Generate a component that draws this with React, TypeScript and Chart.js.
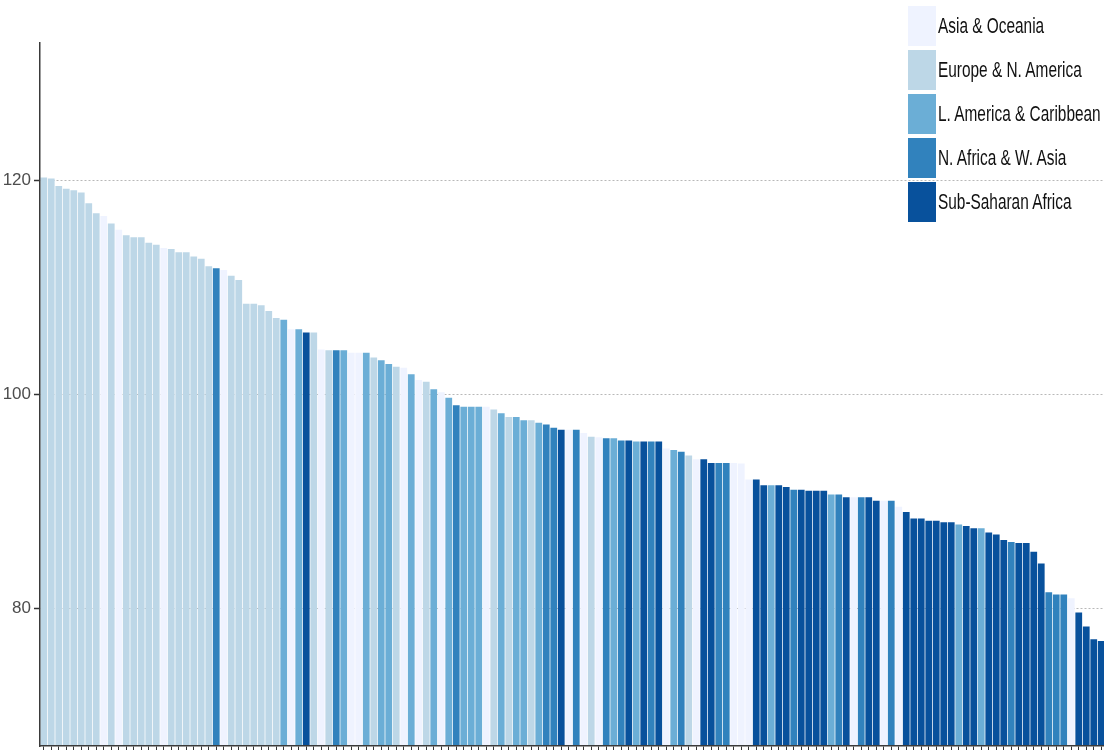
import React, { useEffect, useRef } from "react";
import { Chart, registerables } from "chart.js";

Chart.register(...registerables);

// Region keys and legend
const regionKeys = ["A", "E", "L", "N", "S"];
const regionNames = [
  "Asia & Oceania",
  "Europe & N. America",
  "L. America & Caribbean",
  "N. Africa & W. Asia",
  "Sub-Saharan Africa",
];
const regionColors = ["#eff3ff", "#bdd7e7", "#6baed6", "#3182bd", "#08519c"];

// Bar values (sorted descending)
const values = [
  120.3, 120.2, 119.5, 119.25, 119.1, 118.9, 117.9, 116.95, 116.7, 116.0,
  115.4, 114.9, 114.7, 114.7, 114.2, 114.0, 113.7, 113.6, 113.3, 113.3,
  112.9, 112.7, 112.0, 111.8, 111.65, 111.1, 110.7, 108.5, 108.5, 108.35,
  107.8, 107.15, 107.0, 106.1, 106.1, 105.8, 105.8, 104.2, 104.15, 104.15,
  104.15, 103.9, 103.9, 103.9, 103.45, 103.2, 102.85, 102.6, 102.5, 101.9,
  101.35, 101.2, 100.5, 100.2, 99.7, 99.0, 98.85, 98.85, 98.85, 98.85,
  98.6, 98.25, 97.9, 97.9, 97.6, 97.6, 97.35, 97.2, 96.9, 96.7,
  96.7, 96.7, 96.4, 96.05, 96.0, 95.9, 95.9, 95.7, 95.7, 95.6,
  95.6, 95.6, 95.6, 94.95, 94.8, 94.65, 94.3, 93.95, 93.95, 93.6,
  93.6, 93.6, 93.6, 93.55, 92.05, 92.05, 91.5, 91.5, 91.5, 91.35,
  91.1, 91.1, 91.0, 91.0, 91.0, 90.65, 90.65, 90.4, 90.4, 90.4,
  90.4, 90.05, 90.05, 90.05, 89.5, 89.0, 88.4, 88.4, 88.2, 88.2,
  88.05, 88.05, 87.85, 87.7, 87.5, 87.5, 87.1, 86.9, 86.4, 86.2,
  86.1, 86.1, 85.3, 84.2, 81.5, 81.3, 81.3, 80.95, 79.6, 78.3,
  77.1, 76.95,
];

// Region of each bar
const regions = [
  "E", "E", "E", "E", "E", "E", "E", "E", "A", "E",
  "A", "E", "E", "E", "E", "E", "A", "E", "E", "E",
  "E", "E", "E", "N", "A", "E", "E", "E", "E", "E",
  "E", "E", "L", "A", "L", "S", "E", "A", "E", "N",
  "L", "A", "A", "L", "E", "L", "L", "E", "A", "L",
  "A", "E", "L", "A", "L", "N", "L", "L", "L", "A",
  "E", "L", "E", "L", "L", "E", "L", "N", "N", "S",
  "A", "N", "A", "E", "A", "N", "L", "N", "S", "L",
  "S", "N", "S", "A", "L", "N", "E", "A", "S", "S",
  "N", "N", "A", "A", "A", "S", "S", "L", "S", "S",
  "N", "S", "S", "S", "S", "L", "N", "S", "A", "N",
  "S", "S", "A", "N", "A", "S", "S", "S", "S", "S",
  "S", "S", "L", "S", "S", "L", "S", "S", "S", "N",
  "S", "S", "S", "S", "N", "N", "N", "A", "S", "S",
  "S", "S",
];

const categories = values.map((_, i) => String(i + 1));
const yTicks = [80, 100, 120];
const yMin = 67.12;
const yMax = 132.88;

export default function App() {
  const canvasRef = useRef<HTMLCanvasElement | null>(null);

  useEffect(() => {
    const canvas = canvasRef.current;
    if (!canvas) return;
    const colors = regions.map((r) => regionColors[regionKeys.indexOf(r)]);
    const chart = new Chart(canvas, {
      type: "bar",
      data: {
        labels: categories,
        datasets: [
          {
            data: values,
            backgroundColor: colors,
            borderWidth: 0,
            barPercentage: 0.9,
            categoryPercentage: 1.0,
          },
        ],
      },
      options: {
        animation: false,
        responsive: false,
        maintainAspectRatio: false,
        devicePixelRatio: 1,
        layout: { padding: { top: 43, left: 0, right: 0, bottom: 0 } },
        plugins: {
          legend: { display: false },
          tooltip: { enabled: false },
        },
        scales: {
          x: {
            type: "category",
            offset: true,
            grid: {
              display: true,
              drawOnChartArea: false,
              drawTicks: true,
              tickLength: 4,
              tickColor: "#333333",
              tickWidth: 1,
              offset: false,
            },
            ticks: { display: false },
            border: { display: true, color: "#3a3a3a", width: 1.5, z: 1 },
            afterFit: (s: any) => {
              s.height = 4;
              s.paddingLeft = 0;
              s.paddingRight = 0;
            },
          },
          y: {
            min: yMin,
            max: yMax,
            afterBuildTicks: (s: any) => {
              s.ticks = yTicks.map((v) => ({ value: v }));
            },
            grid: {
              color: "#b8b8b8",
              lineWidth: 1,
              drawTicks: true,
              tickLength: 6,
              tickColor: "#333333",
              tickWidth: 1.5,
              tickBorderDash: [],
            },
            border: {
              display: true,
              color: "#3a3a3a",
              width: 1.5,
              dash: [2, 2],
              z: 1,
            },
            ticks: {
              color: "#4d4d4d",
              padding: 3,
              font: {
                family: "'Liberation Sans Narrow', 'Liberation Sans', Arial, sans-serif",
                size: 17,
              },
            },
            afterFit: (s: any) => {
              s.width = 40;
              s.paddingTop = 0;
              s.paddingBottom = 0;
            },
          },
        },
      },
    } as any);
    return () => chart.destroy();
  }, []);

  return (
    <div
      style={{
        position: "fixed",
        left: 0,
        top: 0,
        width: 1104,
        height: 750,
        overflow: "hidden",
        background: "#ffffff",
      }}
    >
      <canvas
        ref={canvasRef}
        width={1105}
        height={750}
        style={{ position: "absolute", left: 0, top: 0, width: 1105, height: 750 }}
      />
      {regionNames.map((name, i) => (
        <div
          key={name}
          style={{
            position: "absolute",
            left: 908,
            top: 6 + i * 44,
            height: 40,
            display: "flex",
            alignItems: "center",
          }}
        >
          <div style={{ width: 28, height: 40, background: regionColors[i] }} />
          <div
            style={{
              marginLeft: 2,
              fontFamily: "'Liberation Sans', Arial, sans-serif",
              fontSize: 22,
              color: "#111111",
              whiteSpace: "nowrap",
              transform: "scaleX(0.7)",
              transformOrigin: "left center",
            }}
          >
            {name}
          </div>
        </div>
      ))}
    </div>
  );
}
